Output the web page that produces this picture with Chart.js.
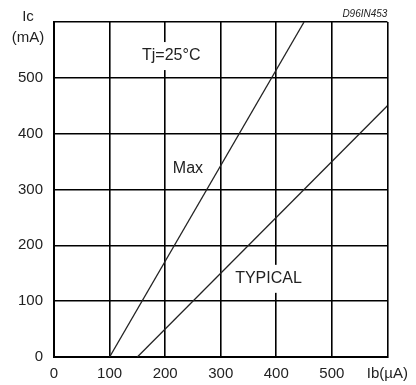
<!DOCTYPE html>
<html>
<head>
<meta charset="utf-8">
<script src="https://cdn.jsdelivr.net/npm/chart.js@4"></script>
<style>
    body { margin: 0; background: #fff; }
    #box { width: 416px; height: 385px; }
</style>
</head>
<body>
<div id="box"><canvas id="icChart" width="416" height="385"></canvas></div>
<script>
// Max 特性
const ibMax = [100, 450];
const icMax = [0, 600];
// TYPICAL 特性
const ibTyp = [150, 600];
const icTyp = [0, 450];

// 目盛りラベル
const xTickLabels = ['0', '100', '200', '300', '400', '500', 'Ib(µA)'];
const yTickLabels = ['0', '100', '200', '300', '400', '500', ''];

const FONT = "'Liberation Sans', Arial, sans-serif";
const TEXT_COLOR = '#222';

const toPoints = (xs, ys) => xs.map((x, i) => ({ x: x, y: ys[i] }));

// 注記（白抜き背景付き）
const notes = [
    { text: 'Tj=25°C', x: 211, y: 539, boxH: 28 },
    { text: 'Max', x: 241, y: 338, boxH: 0 },
    { text: 'TYPICAL', x: 386, y: 140, boxH: 28 }
];

const labelPlugin = {
    id: 'labels',
    afterDatasetsDraw(chart) {
        const ctx = chart.ctx;
        const xs = chart.scales.x;
        const ys = chart.scales.y;
        const area = chart.chartArea;
        ctx.save();
        ctx.textAlign = 'center';
        ctx.textBaseline = 'middle';
        ctx.font = '16px ' + FONT;
        notes.forEach(n => {
            const px = xs.getPixelForValue(n.x);
            const py = ys.getPixelForValue(n.y);
            if (n.boxH) {
                const w = ctx.measureText(n.text).width + 6;
                ctx.fillStyle = '#fff';
                ctx.fillRect(px - w / 2, py - n.boxH / 2, w, n.boxH);
            }
            ctx.fillStyle = TEXT_COLOR;
            ctx.fillText(n.text, px, py);
        });

        // 縦軸タイトル
        ctx.font = '15px ' + FONT;
        ctx.fillText('Ic', area.left - 26, 17);
        ctx.fillText('(mA)', area.left - 26, 38);

        // 図番号
        ctx.font = 'italic 10px ' + FONT;
        ctx.textAlign = 'right';
        ctx.fillText('D96IN453', area.right, 14);
        ctx.restore();
    }
};

function drawIcChart() {
    const ctx = document.getElementById('icChart').getContext('2d');

    new Chart(ctx, {
        type: 'line',
        data: {
            datasets: [{
                label: 'Max',
                data: toPoints(ibMax, icMax),
                borderColor: '#222',
                borderWidth: 1.3,
                pointRadius: 0,
                fill: false
            }, {
                label: 'TYPICAL',
                data: toPoints(ibTyp, icTyp),
                borderColor: '#222',
                borderWidth: 1.3,
                pointRadius: 0,
                fill: false
            }]
        },
        options: {
            responsive: false,
            animation: false,
            layout: { padding: { top: 22, right: 26, left: 0, bottom: 0 } },
            plugins: {
                legend: { display: false },
                tooltip: { enabled: false }
            },
            scales: {
                x: {
                    type: 'linear',
                    min: 0,
                    max: 600,
                    afterFit: (s) => { s.height = 28; },
                    grid: { color: '#000', lineWidth: 1.6, drawTicks: false },
                    border: { color: '#000', width: 2 },
                    ticks: {
                        stepSize: 100,
                        padding: 8,
                        color: TEXT_COLOR,
                        font: { family: FONT, size: 15 },
                        maxRotation: 0,
                        callback: (v) => xTickLabels[v / 100]
                    }
                },
                y: {
                    type: 'linear',
                    min: 0,
                    max: 600,
                    afterFit: (s) => { s.width = 54; },
                    grid: { color: '#000', lineWidth: 1.6, drawTicks: false },
                    border: { color: '#000', width: 2 },
                    ticks: {
                        stepSize: 100,
                        padding: 11,
                        color: TEXT_COLOR,
                        font: { family: FONT, size: 15 },
                        callback: (v) => yTickLabels[v / 100]
                    }
                }
            }
        },
        plugins: [labelPlugin]
    });
}

document.addEventListener('DOMContentLoaded', drawIcChart);
</script>
</body>
</html>
